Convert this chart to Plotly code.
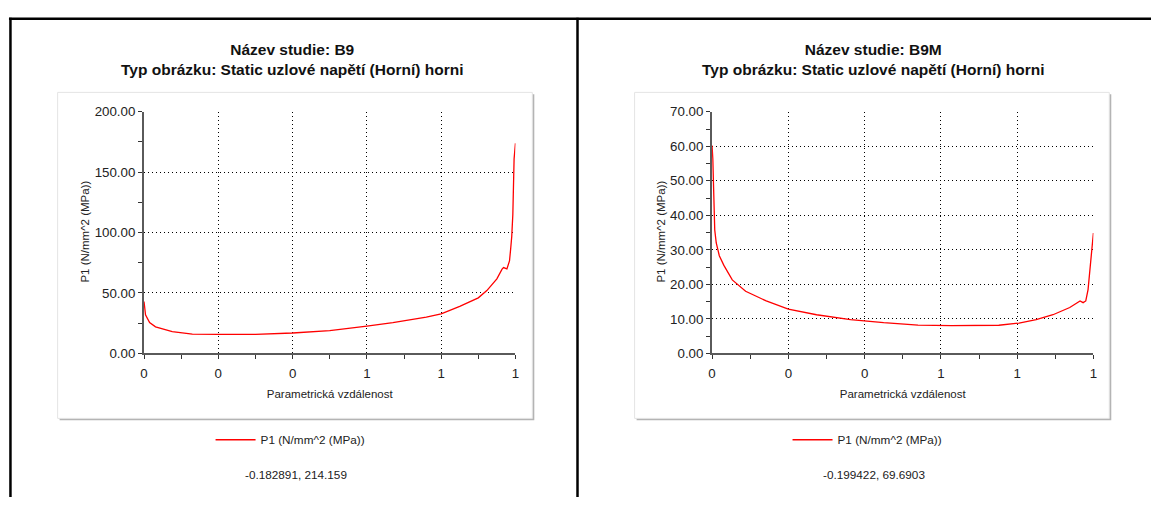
import plotly.graph_objects as go

W, H = 1155, 505

# ---------------- data ----------------
x_ticks = [0, 0.2, 0.4, 0.6, 0.8, 1.0]
x_tick_labels = ["0", "0", "0", "1", "1", "1"]

b9_x = [0.000, 0.004, 0.015, 0.031, 0.076, 0.13, 0.20, 0.30, 0.40, 0.50, 0.60,
        0.67, 0.76, 0.80, 0.85, 0.90, 0.923, 0.95, 0.964, 0.968, 0.977, 0.984,
        0.987, 0.990, 0.993, 0.995, 0.9964, 1.0]
b9_y = [43, 32, 25.5, 22, 18, 16, 15.8, 15.8, 16.9, 18.8, 22.5,
        25.5, 30, 32.7, 39, 46, 52, 61.7, 69.8, 71, 70, 76.5,
        86, 96.6, 115, 137, 161, 174]

b9m_x = [0.000, 0.002, 0.004, 0.007, 0.011, 0.019, 0.031, 0.053, 0.088, 0.142,
         0.20, 0.274, 0.363, 0.45, 0.54, 0.628, 0.752, 0.805, 0.85, 0.894,
         0.938, 0.965, 0.973, 0.98, 0.986, 0.992, 0.997, 1.0]
b9m_y = [60.2, 56.4, 48, 35.8, 32, 28.3, 25.5, 21.3, 18, 15.2,
         12.8, 11.2, 9.8, 8.9, 8.2, 8.06, 8.15, 8.8, 9.75, 11.2,
         13.3, 15.2, 14.7, 15.2, 18.5, 26.4, 32, 34.9]

series_name = "P1 (N/mm^2 (MPa))"
y_title = "P1 (N/mm^2 (MPa))"
x_title = "Parametrická vzdálenost"
titles = ["Název studie: B9<br>Typ obrázku: Static uzlové napětí (Horní) horni",
          "Název studie: B9M<br>Typ obrázku: Static uzlové napětí (Horní) horni"]
coords = ["-0.182891, 214.159", "-0.199422, 69.6903"]


def px(x):
    return x / W


def py(y):
    return 1 - y / H


FONT = "Liberation Sans, Arial, sans-serif"
RED = "#ff0000"

fig = go.Figure()
fig.add_trace(go.Scatter(x=b9_x, y=b9_y, mode="lines", name=series_name,
                         line=dict(color=RED, width=1.3),
                         xaxis="x", yaxis="y", legend="legend"))
fig.add_trace(go.Scatter(x=b9m_x, y=b9m_y, mode="lines", name=series_name,
                         line=dict(color=RED, width=1.3),
                         xaxis="x2", yaxis="y2", legend="legend2"))

common_x = dict(range=[0, 1], tickmode="array", tickvals=x_ticks, ticktext=x_tick_labels,
                showgrid=True, gridcolor="#000000", griddash="1px,3px", gridwidth=1,
                showline=True, linecolor="#5a5a5a", linewidth=2,
                ticks="outside", ticklen=4, tickcolor="#333333", tickwidth=1,
                ticklabelstandoff=3,
                minor=dict(dtick=0.1, tick0=0, ticks="outside", ticklen=4,
                           tickcolor="#333333", showgrid=False),
                tickfont=dict(family=FONT, size=13.3, color="#222222"),
                title=dict(text=x_title, font=dict(family=FONT, size=11.5, color="#222222"),
                           standoff=10),
                zeroline=False, fixedrange=True)
common_y = dict(tickformat=".2f",
                showgrid=True, gridcolor="#000000", griddash="1px,3px", gridwidth=1,
                showline=True, linecolor="#5a5a5a", linewidth=2,
                ticks="outside", ticklen=4, tickcolor="#333333", tickwidth=1,
                tickfont=dict(family=FONT, size=13.3, color="#222222"),
                zeroline=False, fixedrange=True)

fig.update_layout(
    width=W, height=H,
    margin=dict(l=0, r=0, t=0, b=0),
    paper_bgcolor="white", plot_bgcolor="rgba(0,0,0,0)",
    xaxis=dict(common_x, domain=[px(141), px(515)], anchor="y"),
    yaxis=dict(common_y, domain=[py(357), py(108)], anchor="x", range=[0, 200], dtick=50,
               minor=dict(dtick=25, ticks="outside", ticklen=4, tickcolor="#333333", showgrid=False)),
    xaxis2=dict(common_x, domain=[px(713), px(1097)], anchor="y2"),
    yaxis2=dict(common_y, domain=[py(357), py(108)], anchor="x2", range=[0, 70], dtick=10,
                minor=dict(dtick=5, ticks="outside", ticklen=4, tickcolor="#333333", showgrid=False)),
    legend=dict(x=px(208), y=py(446), xanchor="left", yanchor="middle",
                bgcolor="rgba(0,0,0,0)", font=dict(family=FONT, size=11.75, color="#222222"),
                itemwidth=40),
    legend2=dict(x=px(789), y=py(446), xanchor="left", yanchor="middle",
                 bgcolor="rgba(0,0,0,0)", font=dict(family=FONT, size=11.75, color="#222222"),
                 itemwidth=40),
    showlegend=True,
)

shapes = []
# panels with shadow
for (x0, x1) in [(54, 532), (635, 1113)]:
    shapes.append(dict(type="rect", xref="paper", yref="paper", layer="below",
                       x0=px(x0 + 2), x1=px(x1 + 2), y0=py(424 + 2), y1=py(88 + 2),
                       line=dict(width=0), fillcolor="#b4b4b4"))
    shapes.append(dict(type="rect", xref="paper", yref="paper", layer="below",
                       x0=px(x0), x1=px(x1), y0=py(424), y1=py(88),
                       line=dict(width=1, color="#e4e4e4"), fillcolor="white"))
# outer frame
frame = "#000000"
shapes.append(dict(type="line", xref="paper", yref="paper", x0=px(5), x1=px(1155),
                   y0=py(12), y1=py(12), line=dict(color=frame, width=2.5)))
shapes.append(dict(type="line", xref="paper", yref="paper", x0=px(6.5), x1=px(6.5),
                   y0=py(11), y1=py(505), line=dict(color=frame, width=2.5)))
shapes.append(dict(type="line", xref="paper", yref="paper", x0=px(577.5), x1=px(577.5),
                   y0=py(11), y1=py(505), line=dict(color=frame, width=2.5)))
fig.update_layout(shapes=shapes)

annotations = []
for cx, t in zip([290, 875], titles):
    annotations.append(dict(text="<b>" + t.replace("<br>", "</b><br><b>") + "</b>",
                            xref="paper", yref="paper", x=px(cx), y=py(54),
                            xanchor="center", yanchor="middle", showarrow=False,
                            font=dict(family=FONT, size=15.5, color="#111111")))
for cx in [82, 662]:
    annotations.append(dict(text=y_title, xref="paper", yref="paper", x=px(cx), y=py(231),
                            xanchor="center", yanchor="middle", textangle=-90, showarrow=False,
                            font=dict(family=FONT, size=11.5, color="#222222")))
for cx, t in zip([294, 876], coords):
    annotations.append(dict(text=t, xref="paper", yref="paper", x=px(cx), y=py(482),
                            xanchor="center", yanchor="middle", showarrow=False,
                            font=dict(family=FONT, size=11.75, color="#222222")))
fig.update_layout(annotations=annotations)

fig.write_html("out.html")
